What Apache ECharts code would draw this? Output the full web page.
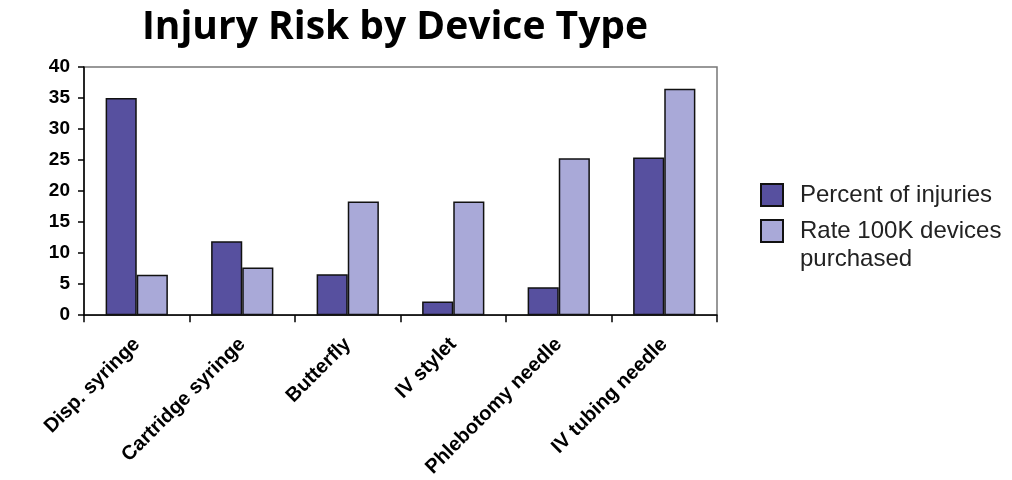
<!DOCTYPE html>
<html>
<head>
<meta charset="utf-8">
<script src="https://cdn.jsdelivr.net/npm/echarts@6/dist/echarts.min.js"></script>
<style>
  html, body { margin: 0; padding: 0; background: #fff; }
  #chart { width: 1012px; height: 480px; }
</style>
</head>
<body>
<div id="chart"></div>
<script>
// Device categories and the two measures per device
const devices = ['Disp. syringe', 'Cartridge syringe', 'Butterfly', 'IV stylet', 'Phlebotomy needle', 'IV tubing needle'];
const percentOfInjuries = [35.0, 11.9, 6.6, 2.2, 4.5, 25.4];
const ratePer100K = [6.5, 7.7, 18.3, 18.3, 25.3, 36.5];
const yTicks = [0, 5, 10, 15, 20, 25, 30, 35, 40];

const seriesNames = ['Percent of injuries', 'Rate 100K devices purchased'];
const colors = ['#57509f', '#a9a9d8'];

const chart = echarts.init(document.getElementById('chart'), null, { renderer: 'canvas' });

const legendText = {
  fontFamily: 'Liberation Sans, Arial, sans-serif',
  fontSize: 24,
  color: '#222',
  lineHeight: 28,
  padding: [0, 0, 0, 12]
};
const legendCommon = {
  orient: 'vertical',
  left: 760,
  padding: 0,
  itemWidth: 22,
  itemHeight: 22,
  icon: 'rect',
  selectedMode: false,
  textStyle: legendText
};

chart.setOption({
  animation: false,
  backgroundColor: '#ffffff',
  title: {
    text: 'Injury Risk by Device Type',
    left: 390,
    top: 3,
    textAlign: 'center',
    textStyle: { fontFamily: 'Open Sans, sans-serif', fontWeight: 'bold', fontSize: 39, color: '#000' }
  },
  legend: [
    Object.assign({}, legendCommon, {
      top: 181,
      data: [seriesNames[0]]
    }),
    // the wrapped entry: a leading blank line keeps the swatch level with the first text line
    Object.assign({}, legendCommon, {
      top: 189,
      data: [seriesNames[1]],
      formatter: name => '\n' + name.replace(' purchased', '\npurchased')
    })
  ],
  grid: {
    left: 84,
    right: 295,
    top: 67,
    bottom: 164,
    show: true,
    borderColor: '#777',
    borderWidth: 1.5,
    backgroundColor: 'transparent'
  },
  xAxis: {
    type: 'category',
    data: devices,
    boundaryGap: true,
    axisLine: { lineStyle: { color: '#000', width: 1.5 } },
    axisTick: { show: true, alignWithLabel: false, length: 7, lineStyle: { color: '#000', width: 1.5 } },
    axisLabel: {
      rotate: 45,
      margin: 26,
      interval: 0,
      fontFamily: 'Liberation Sans, Arial, sans-serif',
      fontWeight: 'bold',
      fontSize: 20,
      color: '#000'
    },
    splitLine: { show: false }
  },
  yAxis: {
    type: 'value',
    min: yTicks[0],
    max: yTicks[yTicks.length - 1],
    interval: yTicks[1] - yTicks[0],
    axisLine: { show: true, lineStyle: { color: '#000', width: 1.5 } },
    axisTick: { show: true, length: 6, lineStyle: { color: '#000', width: 1.5 } },
    axisLabel: {
      margin: 14,
      fontFamily: 'Liberation Sans, Arial, sans-serif',
      fontWeight: 'bold',
      fontSize: 19,
      color: '#000'
    },
    splitLine: { show: false }
  },
  series: [
    {
      name: seriesNames[0],
      type: 'bar',
      data: percentOfInjuries,
      barGap: '0%',
      barCategoryGap: '41%',
      itemStyle: { color: colors[0], borderColor: '#111', borderWidth: 1.5 }
    },
    {
      name: seriesNames[1],
      type: 'bar',
      data: ratePer100K,
      barGap: '0%',
      barCategoryGap: '41%',
      itemStyle: { color: colors[1], borderColor: '#111', borderWidth: 1.5 }
    }
  ]
});
</script>
</body>
</html>
